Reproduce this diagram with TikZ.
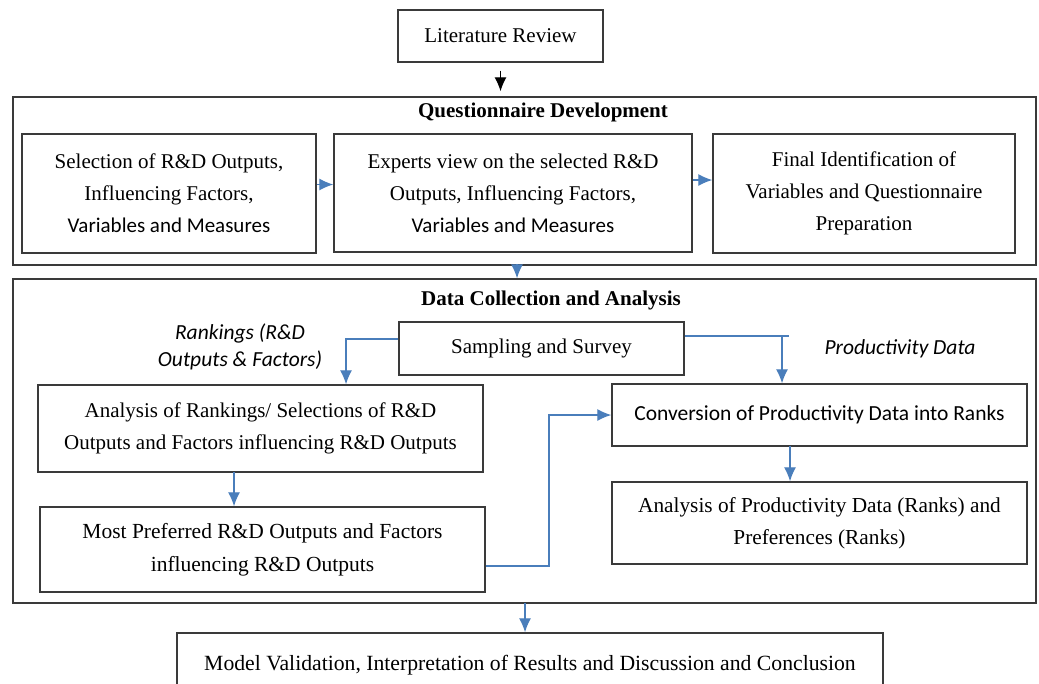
\documentclass[tikz,border=0pt]{standalone}
\usepackage{fontspec}
\setmainfont{Liberation Serif}
\newfontfamily\calfont{Carlito}
\usetikzlibrary{arrows.meta}
\definecolor{arrblue}{HTML}{4A7EBB}
\definecolor{boxgray}{HTML}{3A3A3A}
\begin{document}
\begin{tikzpicture}[x=1pt,y=-1pt,
  box/.style 2 args={draw=boxgray,line width=1.4pt,fill=white,inner sep=0pt,
    minimum width=#1,minimum height=#2,align=center,
    font=\fontsize{21}{32}\selectfont},
  outer/.style 2 args={draw=boxgray,line width=1.4pt,inner sep=0pt,
    minimum width=#1,minimum height=#2},
  title/.style={font=\fontsize{21}{26}\selectfont\bfseries,inner sep=0pt},
  lbl/.style={font=\fontsize{21.5}{27}\selectfont\calfont\itshape,align=center,inner sep=0pt},
  conn/.style={draw=arrblue,line width=1.3pt},
  arr/.style={conn,-{Latex[length=14pt,width=12pt]}},
  blackarr/.style={draw=black,line width=1.3pt,-{Latex[length=14pt,width=12pt]}}
]
\useasboundingbox[fill=white] (0,0) rectangle (1039,683);
\clip (0,0) rectangle (1039,683);

% outer frames
\node[outer={1023pt}{168pt}] (q) at (524.5,181) {};
\node[outer={1023pt}{324pt}] (d) at (524.5,441) {};
\node[title] (qt) at (543,112) {Questionnaire Development};
\node[title] (dt) at (551,300) {Data Collection and Analysis};

% boxes
\node[box={205pt}{52pt}] (lit) at (500.5,36) {Literature Review};
\node[box={294pt}{119pt}] (a) at (169,193.5)
  {Selection of R\&D Outputs,\\ Influencing Factors,\\ {\calfont Variables and Measures}};
\node[box={358pt}{118pt}] (b) at (513,193)
  {Experts view on the selected R\&D\\ Outputs, Influencing Factors,\\ {\calfont Variables and Measures}};
\node[box={302pt}{119pt}] (c) at (864,193.5)
  {Final Identification of\\ Variables and Questionnaire\\ Preparation};

\node[box={285pt}{53pt}] (s) at (541.5,348.5) {Sampling and Survey};
\node[box={445pt}{87pt}] (r) at (260.5,428.5)
  {Analysis of Rankings/ Selections of R\&D\\ Outputs and Factors influencing R\&D Outputs};
\node[box={445pt}{85pt},font=\fontsize{21.5}{33}\selectfont] (m) at (262.5,549.5)
  {Most Preferred R\&D Outputs and Factors\\ influencing R\&D Outputs};
\node[box={415pt}{62pt},font=\calfont\fontsize{21.5}{32}\selectfont] (cv) at (819.5,415)
  {Conversion of Productivity Data into Ranks};
\node[box={415pt}{82pt},font=\fontsize{21.3}{32}\selectfont] (p) at (819.5,523)
  {Analysis of Productivity Data (Ranks) and\\ Preferences (Ranks)};
\node[box={706pt}{72pt},font=\fontsize{21.7}{32}\selectfont] (mv) at (530,669)
  {\raisebox{12pt}{Model Validation, Interpretation of Results and Discussion and Conclusion}};

% labels
\node[lbl] (rl) at (240,346.5) {Rankings (R\&D\\ Outputs \& Factors)};
\node[lbl] (pl) at (900,349) {Productivity Data};

% connectors
\draw[blackarr,shorten <=8pt,shorten >=5pt] (lit.south) -- (lit.south |- q.north);
\draw[arr] ([yshift=9pt]a.east) -- ([yshift=9pt]a.east -| b.west);
\draw[arr] ([yshift=13pt]b.east) -- ([yshift=13pt]b.east -| c.west);
\draw[arr,shorten <=1pt] (517,265) coordinate (qd) -- (qd |- d.north);

\coordinate (sl) at (346,339);
\draw[arr] (s.west |- sl) -- (sl) -- (sl |- r.north);
\coordinate (sr) at (782,336);
\draw[conn] (s.east |- sr) -- ++(104,0) coordinate (srend);
\draw[arr] (sr) -- (sr |- cv.north);

\draw[arr] (234,472) coordinate (rm) -- (rm |- m.north);
\coordinate (mj) at (549,566);
\draw[arr] (m.east |- mj) -- (mj) -- (mj |- cv.west) -- (cv.west);
\draw[arr] (790,446) coordinate (cp) -- (cp |- p.north);
\draw[arr] (525,603) coordinate (dm) -- (dm |- mv.north);
\end{tikzpicture}
\end{document}
